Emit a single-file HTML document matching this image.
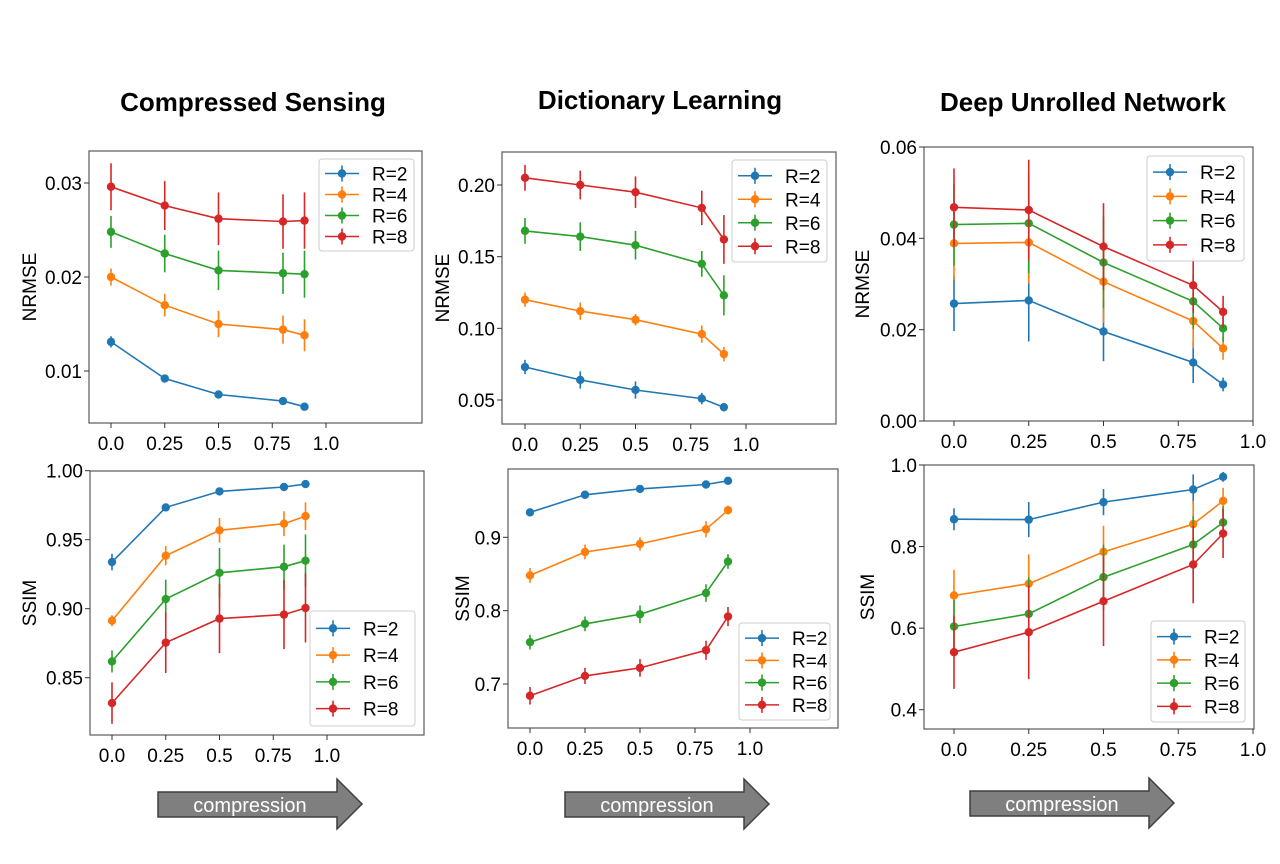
<!DOCTYPE html>
<html><head><meta charset="utf-8"><style>
html,body{margin:0;padding:0;background:#fff;}
svg{display:block;font-family:"Liberation Sans",sans-serif;}
</style></head><body>
<svg id="fig" width="1280" height="864" viewBox="0 0 1280 864">
<text x="253" y="111" text-anchor="middle" font-size="26" font-weight="bold">Compressed Sensing</text>
<text x="660" y="109" text-anchor="middle" font-size="26" font-weight="bold">Dictionary Learning</text>
<text x="1083" y="111" text-anchor="middle" font-size="26" font-weight="bold">Deep Unrolled Network</text>
<g transform="translate(0,0)">
<polygon points="158,792 337,792 337,779 362,804 337,829 337,817 158,817" fill="#7f7f7f" stroke="#3f3f3f" stroke-width="1.5"/>
<text x="250" y="812" text-anchor="middle" font-size="20" fill="#fff">compression</text></g>
<g transform="translate(407,0)">
<polygon points="158,792 337,792 337,779 362,804 337,829 337,817 158,817" fill="#7f7f7f" stroke="#3f3f3f" stroke-width="1.5"/>
<text x="250" y="812" text-anchor="middle" font-size="20" fill="#fff">compression</text></g>
<g transform="translate(812,-1)">
<polygon points="158,792 337,792 337,779 362,804 337,829 337,817 158,817" fill="#7f7f7f" stroke="#3f3f3f" stroke-width="1.5"/>
<text x="250" y="812" text-anchor="middle" font-size="20" fill="#fff">compression</text></g>
</svg>
<script>
const xValues = [0, 0.25, 0.5, 0.8, 0.9];
const xTickValues = [0, 0.25, 0.5, 0.75, 1.0];
const xTickLabels = ["0.0", "0.25", "0.5", "0.75", "1.0"];
const seriesNames = ["R=2", "R=4", "R=6", "R=8"];
const colors = ["#1f77b4", "#ff7f0e", "#2ca02c", "#d62728"];

const csNrmse = [[0.0131,0.0092,0.0075,0.0068,0.0062],[0.0200,0.0170,0.0150,0.0144,0.0138],[0.0248,0.0225,0.0207,0.0204,0.0203],[0.0296,0.0276,0.0262,0.0259,0.0260]];
const csNrmseErr = [[0.0006,0.0004,0.0003,0.0003,0.0002],[0.0009,0.0012,0.0014,0.0015,0.0017],[0.0017,0.0020,0.0021,0.0022,0.0025],[0.0025,0.0026,0.0028,0.0029,0.0030]];
const dlNrmse = [[0.073,0.064,0.057,0.051,0.045],[0.120,0.112,0.106,0.096,0.082],[0.168,0.164,0.158,0.145,0.123],[0.205,0.200,0.195,0.184,0.162]];
const dlNrmseErr = [[0.005,0.006,0.006,0.004,0.003],[0.005,0.006,0.004,0.006,0.005],[0.009,0.010,0.010,0.009,0.014],[0.009,0.010,0.011,0.012,0.017]];
const dunNrmse = [[0.0257,0.0264,0.0196,0.0128,0.0080],[0.0389,0.0391,0.0305,0.0219,0.0159],[0.0430,0.0433,0.0347,0.0262,0.0203],[0.0468,0.0462,0.0382,0.0297,0.0239]];
const dunNrmseErr = [[0.006,0.009,0.0065,0.0045,0.0015],[0.008,0.009,0.009,0.006,0.0025],[0.009,0.011,0.010,0.006,0.003],[0.0085,0.011,0.0095,0.006,0.0035]];
const csSsim = [[0.9338,0.9734,0.9850,0.9882,0.9903],[0.8913,0.9384,0.9568,0.9616,0.9671],[0.8618,0.9070,0.9260,0.9304,0.9348],[0.8316,0.8754,0.8928,0.8957,0.9005]];
const csSsimErr = [[0.006,0.002,0.001,0.001,0.001],[0.004,0.007,0.009,0.009,0.010],[0.008,0.014,0.018,0.016,0.019],[0.015,0.022,0.025,0.025,0.025]];
const dlSsim = [[0.934,0.958,0.966,0.972,0.977],[0.848,0.880,0.891,0.911,0.937],[0.757,0.782,0.795,0.824,0.867],[0.684,0.711,0.722,0.746,0.792]];
const dlSsimErr = [[0.003,0.003,0.003,0.003,0.003],[0.010,0.010,0.009,0.011,0.006],[0.010,0.010,0.012,0.012,0.010],[0.012,0.011,0.012,0.013,0.013]];
const dunSsim = [[0.867,0.866,0.909,0.940,0.971],[0.680,0.709,0.787,0.855,0.912],[0.604,0.635,0.725,0.805,0.859],[0.541,0.590,0.666,0.756,0.832]];
const dunSsimErr = [[0.027,0.043,0.032,0.037,0.012],[0.063,0.072,0.064,0.057,0.032],[0.065,0.090,0.080,0.070,0.040],[0.090,0.115,0.110,0.095,0.060]];

const csNrmseTicks = [0.01, 0.02, 0.03];
const csNrmseTickLabels = ["0.01", "0.02", "0.03"];
const dlNrmseTicks = [0.05, 0.10, 0.15, 0.20];
const dlNrmseTickLabels = ["0.05", "0.10", "0.15", "0.20"];
const dunNrmseTicks = [0, 0.02, 0.04, 0.06];
const dunNrmseTickLabels = ["0.00", "0.02", "0.04", "0.06"];
const csSsimTicks = [0.85, 0.90, 0.95, 1.00];
const csSsimTickLabels = ["0.85", "0.90", "0.95", "1.00"];
const dlSsimTicks = [0.7, 0.8, 0.9];
const dlSsimTickLabels = ["0.7", "0.8", "0.9"];
const dunSsimTicks = [0.4, 0.6, 0.8, 1.0];
const dunSsimTickLabels = ["0.4", "0.6", "0.8", "1.0"];

const NS = "http://www.w3.org/2000/svg";
const svg = document.getElementById("fig");
function mk(tag, attrs, parent) {
  const e = document.createElementNS(NS, tag);
  for (const k in attrs) e.setAttribute(k, attrs[k]);
  parent.appendChild(e);
  return e;
}

function panel(name, cfg, vals, errs, ticks, tickLabels) {
  const g = mk("g", {}, svg);
  
  
  const sx = v => cfg.x0 + (cfg.x1 - cfg.x0) * v;
  const sy = v => cfg.ya + (cfg.yb - cfg.ya) * (v - cfg.va) / (cfg.vb - cfg.va);
  for (let s = 0; s < vals.length; s++) {
    const sg = mk("g", {}, g);
    
    
    const pts = xValues.map((x, i) => sx(x).toFixed(1) + "," + sy(vals[s][i]).toFixed(1)).join(" ");
    for (let i = 0; i < xValues.length; i++) {
      const eb = mk("line", {x1: sx(xValues[i]), x2: sx(xValues[i]), y1: sy(vals[s][i] - errs[s][i]), y2: sy(vals[s][i] + errs[s][i]), stroke: colors[s], "stroke-width": 1.6}, sg);
      
      
    }
    const pl = mk("polyline", {points: pts, fill: "none", stroke: colors[s], "stroke-width": 1.6}, sg);
    
    
    for (let i = 0; i < xValues.length; i++) {
      const c = mk("circle", {cx: sx(xValues[i]), cy: sy(vals[s][i]), r: 4.2, fill: colors[s]}, sg);
      
      
    }
  }
  const fr = mk("rect", {x: cfg.bx0, y: cfg.by0, width: cfg.bx1 - cfg.bx0, height: cfg.by1 - cfg.by0, fill: "none", stroke: "#595959", "stroke-width": 1.2}, g);
  
  
  for (let i = 0; i < xTickValues.length; i++) {
    const x = sx(xTickValues[i]);
    mk("line", {x1: x, x2: x, y1: cfg.by1, y2: cfg.by1 + 5, stroke: "#333", "stroke-width": 1}, g);
    const t = mk("text", {x: x, y: cfg.by1 + 27, "text-anchor": "middle", "font-size": 19, fill: "#000"}, g);
    t.textContent = xTickLabels[i];
    
    
  }
  for (let i = 0; i < ticks.length; i++) {
    const y = sy(ticks[i]);
    mk("line", {x1: cfg.bx0 - 5, x2: cfg.bx0, y1: y, y2: y, stroke: "#333", "stroke-width": 1}, g);
    const t = mk("text", {x: cfg.bx0 - 7, y: y + 7, "text-anchor": "end", "font-size": 19, fill: "#000"}, g);
    t.textContent = tickLabels[i];
    
    
  }
  const yl = mk("text", {x: cfg.ylx, y: (cfg.by0 + cfg.by1) / 2, "text-anchor": "middle", "font-size": 19, transform: "rotate(-90 " + cfg.ylx + " " + (cfg.by0 + cfg.by1) / 2 + ")"}, g);
  yl.textContent = cfg.ylabel;
  
  
  const lg = mk("g", {}, g);
  
  
  mk("rect", {x: cfg.lx, y: cfg.ly, width: cfg.lw, height: cfg.lh, rx: 3, fill: "#fff", "fill-opacity": 0.85, stroke: "#ccc", "stroke-width": 1}, lg);
  const step = (cfg.lh - 8) / 4;
  for (let s = 0; s < 4; s++) {
    const y = cfg.ly + 4 + step * (s + 0.5);
    const e = mk("g", {}, lg);
    
    
    mk("line", {x1: cfg.lx + 6, x2: cfg.lx + 40, y1: y, y2: y, stroke: colors[s], "stroke-width": 1.6}, e);
    mk("line", {x1: cfg.lx + 23, x2: cfg.lx + 23, y1: y - 8, y2: y + 8, stroke: colors[s], "stroke-width": 1.6}, e);
    mk("circle", {cx: cfg.lx + 23, cy: y, r: 4.2, fill: colors[s]}, e);
    const t = mk("text", {x: cfg.lx + 53, y: y + 7, "font-size": 19}, e);
    t.textContent = seriesNames[s];
  }
}

panel("cs-nrmse-chart", {x0:111,x1:326,ya:371,yb:183,va:0.01,vb:0.03,bx0:89,bx1:422,by0:151,by1:423,ylx:36,ylabel:"NRMSE",lx:319,ly:159,lw:95,lh:92}, csNrmse, csNrmseErr, csNrmseTicks, csNrmseTickLabels);
panel("dl-nrmse-chart", {x0:525,x1:746,ya:400,yb:185,va:0.05,vb:0.20,bx0:502,bx1:836,by0:152,by1:424,ylx:449,ylabel:"NRMSE",lx:732,ly:160,lw:95,lh:102}, dlNrmse, dlNrmseErr, dlNrmseTicks, dlNrmseTickLabels);
panel("dun-nrmse-chart", {x0:954,x1:1253,ya:421,yb:147,va:0,vb:0.06,bx0:924,bx1:1253,by0:147,by1:421,ylx:869,ylabel:"NRMSE",lx:1147,ly:156,lw:97,lh:105}, dunNrmse, dunNrmseErr, dunNrmseTicks, dunNrmseTickLabels);
panel("cs-ssim-chart", {x0:112,x1:327,ya:677.7,yb:470.7,va:0.85,vb:1.0,bx0:90,bx1:424,by0:471,by1:735,ylx:36,ylabel:"SSIM",lx:310,ly:611,lw:105,lh:115}, csSsim, csSsimErr, csSsimTicks, csSsimTickLabels);
panel("dl-ssim-chart", {x0:530,x1:750,ya:684,yb:537.3,va:0.7,vb:0.9,bx0:508,bx1:838,by0:469,by1:728,ylx:469,ylabel:"SSIM",lx:739,ly:623,lw:91,lh:97}, dlSsim, dlSsimErr, dlSsimTicks, dlSsimTickLabels);
panel("dun-ssim-chart", {x0:954,x1:1253,ya:709.7,yb:465,va:0.4,vb:1.0,bx0:924,bx1:1254,by0:465,by1:729,ylx:874,ylabel:"SSIM",lx:1151,ly:621,lw:94,lh:101}, dunSsim, dunSsimErr, dunSsimTicks, dunSsimTickLabels);
</script>
</body></html>
